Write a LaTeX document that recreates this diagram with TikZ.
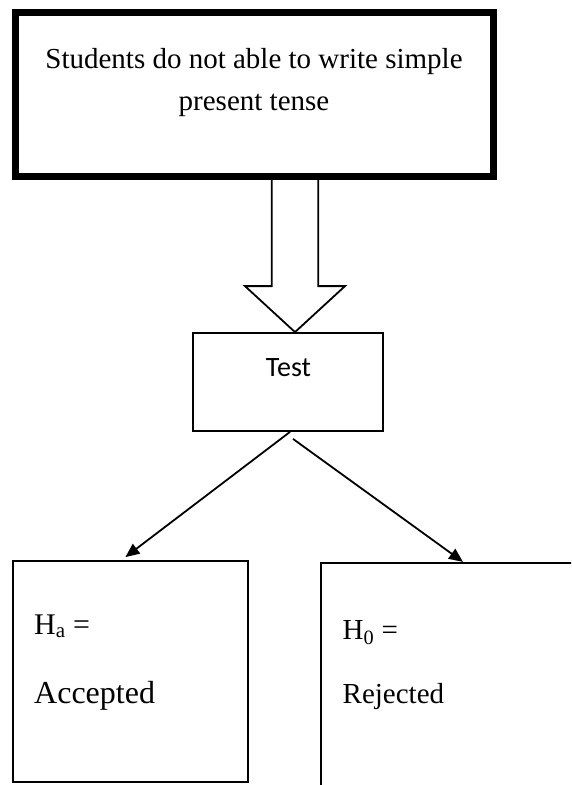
\documentclass[tikz,border=0pt]{standalone}
\usepackage{fontspec}
\setmainfont{Liberation Serif}
\newfontfamily\calibrifont{Carlito}
\usetikzlibrary{arrows.meta}

\begin{document}
\begin{tikzpicture}[x=1pt,y=1pt,>={Triangle[length=14pt,width=12pt]}]
    \useasboundingbox (0,0) rectangle (571,-785);
    \clip (0,0) rectangle (571,-785);

        \begin{scope}[every node/.style={rectangle,draw,line width=1.8pt,inner sep=0pt}]
            \node[line width=7pt,minimum width=478pt,minimum height=164pt] (problem) at (254.5,-94) {};
            \node[minimum width=190pt,minimum height=98pt] (test) at (288,-382) {};
            \node[minimum width=235pt,minimum height=221pt] (ha) at (130.4,-671.5) {};
            \node[minimum width=300pt,minimum height=260pt] (h0) at (470.7,-693.3) {};
        \end{scope}

        \begin{scope}[every node/.style={inner sep=0pt,font=\fontsize{29}{42}\selectfont}]
            \node[anchor=base] (problemline1) at (254,-68) {Students do not able to write simple};
            \node[anchor=base] (problemline2) at (254,-110) {present tense};
            \node[anchor=base,font=\calibrifont\fontsize{28}{34}\selectfont] (testtext) at (288.5,-376.7) {Test};
            \node[anchor=base west,font=\fontsize{30}{36}\selectfont] (hatext) at (34,-634) {H\textsubscript{a} =};
            \node[anchor=base west,font=\fontsize{32}{38}\selectfont] (accepted) at (34,-703) {Accepted};
            \node[anchor=base west] (h0text) at (342.5,-639.3) {H\textsubscript{0} =};
            \node[anchor=base west] (rejected) at (342.5,-703) {Rejected};
        \end{scope}

        % hollow arrow from the problem down to the test
        \coordinate (tip) at ([xshift=7pt]test.north);
        \draw[line width=1.8pt,line join=miter] (tip) ++(-23.3,156) -- ++(0,-110) -- ++(-26.7,0) -- (tip)
            -- ++(50,46) -- ++(-26.7,0) -- ++(0,110);

        \begin{scope}[every edge/.style={draw,line width=1.8pt}]
            \path [->] ([xshift=2pt]test.south) edge ([shift={(-5pt,3pt)}]ha.north);
            \path [->] ([shift={(5pt,-7pt)}]test.south) edge ([shift={(-7.7pt,0.5pt)}]h0.north);
        \end{scope}

    \end{tikzpicture}
\end{document}
